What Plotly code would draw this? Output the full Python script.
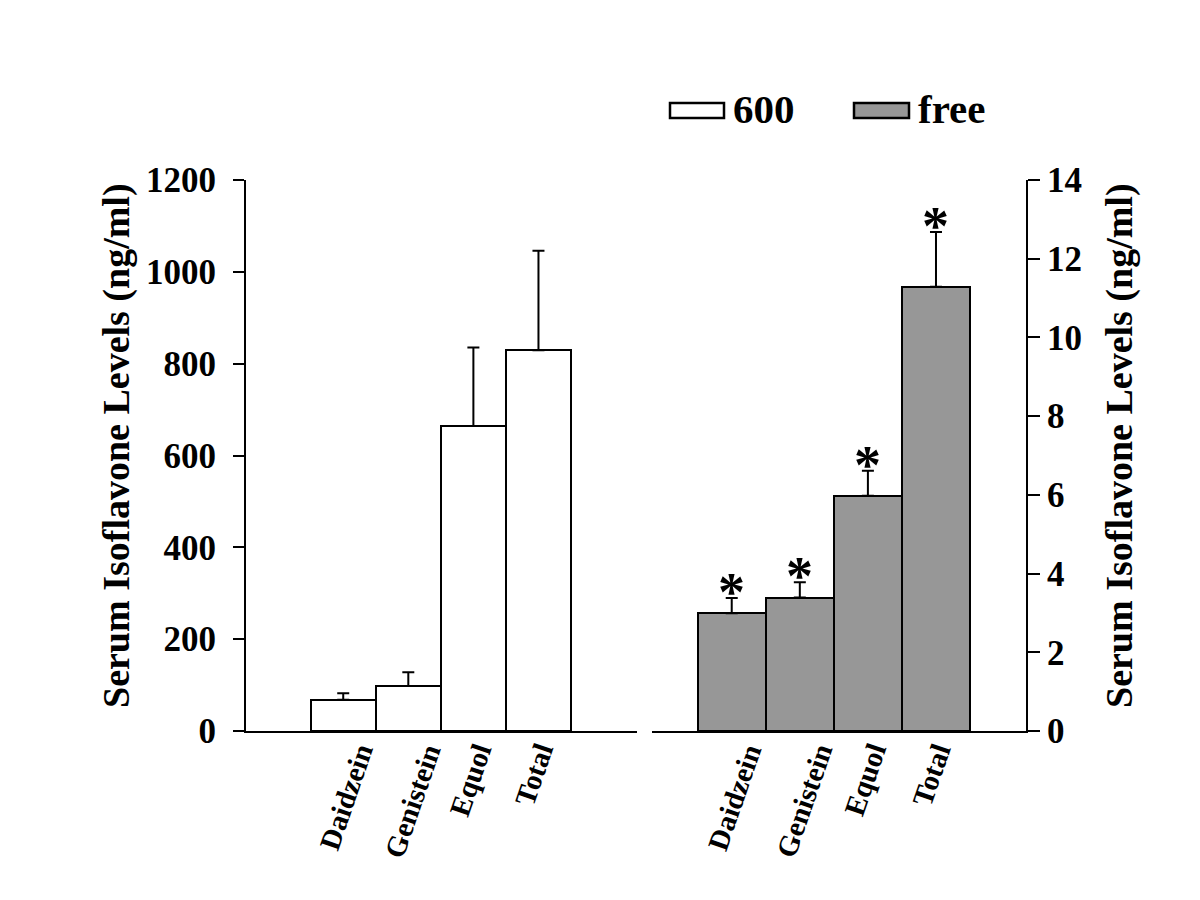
import plotly.graph_objects as go

categories = ["Daidzein", "Genistein", "Equol", "Total"]
left_values = [68, 98, 664, 829]
left_err_top = [82, 128, 835, 1046]
right_values = [2.99, 3.39, 5.98, 11.29]
right_err_top = [3.38, 3.78, 6.61, 12.68]
left_ticks = [0, 200, 400, 600, 800, 1000, 1200]
right_ticks = [0, 2, 4, 6, 8, 10, 12, 14]
legend_labels = ["600", "free"]

FONT = "Liberation Serif, Times New Roman, serif"
GRAY = "#979797"

xs = list(range(len(categories)))
left_err = [t - v for t, v in zip(left_err_top, left_values)]
right_err = [t - v for t, v in zip(right_err_top, right_values)]

fig = go.Figure()
fig.add_trace(go.Bar(
    x=xs, y=left_values, width=1, xaxis="x", yaxis="y",
    marker=dict(color="white", line=dict(color="black", width=2)),
    error_y=dict(type="data", array=left_err, arrayminus=[0]*4, symmetric=False,
                 color="black", thickness=2, width=6),
    showlegend=False,
))
fig.add_trace(go.Bar(
    x=xs, y=right_values, width=1, xaxis="x2", yaxis="y2",
    marker=dict(color=GRAY, line=dict(color="black", width=2)),
    error_y=dict(type="data", array=right_err, arrayminus=[0]*4, symmetric=False,
                 color="black", thickness=2, width=6),
    showlegend=False,
))

W, H = 1200, 900
OFF = 8  # page body margin offset
def px(x):
    return (x - OFF) / W
def py(y):
    return (H - (y - OFF)) / H

ydom = [py(731), py(180)]
axis_common = dict(showgrid=False, zeroline=False, showline=True, linecolor="black",
                   linewidth=2, mirror=False, automargin=False)

fig.update_layout(
    template="none",
    width=W, height=H, margin=dict(l=0, r=0, t=0, b=0, pad=0, autoexpand=False),
    paper_bgcolor="white", plot_bgcolor="white", bargap=0,
    font=dict(family=FONT, color="black"),
    xaxis=dict(domain=[px(246), px(637)], range=[-1.494, 4.514], anchor="y",
               showticklabels=False, ticks="", **axis_common),
    yaxis=dict(domain=ydom, range=[0, 1200], anchor="x", side="left",
               tickvals=left_ticks, ticks="outside", ticklen=11, tickwidth=2,
               tickcolor="black", ticklabelstandoff=10,
               tickfont=dict(family=FONT, size=35, color="black", weight="bold"),
               **axis_common),
    xaxis2=dict(domain=[px(652), px(1026)], range=[-1.171, 4.322], anchor="y2",
                showticklabels=False, ticks="", **axis_common),
    yaxis2=dict(domain=ydom, range=[0, 14], anchor="x2", side="right",
                tickvals=right_ticks, ticks="outside", ticklen=12, tickwidth=2,
                tickcolor="black", ticklabelstandoff=0,
                tickfont=dict(family=FONT, size=35, color="black", weight="bold"),
                **axis_common),
)

annotations = []
title = "Serum Isoflavone Levels (ng/ml)"
for xc in (116, 1119):
    annotations.append(dict(x=px(xc), y=py(446), xref="paper", yref="paper",
                            text=title, textangle=-90, showarrow=False,
                            xanchor="center", yanchor="middle",
                            font=dict(family=FONT, size=38, weight="bold")))
# rotated category labels
for xr, yr in (("x", "y"), ("x2", "y2")):
    for i, c in enumerate(categories):
        annotations.append(dict(x=xs[i], y=0, xref=xr, yref=yr, text=c, textangle=-71,
                                showarrow=False, xanchor="left", yanchor="top",
                                xshift=-33, yshift=-6,
                                font=dict(family=FONT, size=29, weight="bold")))
# significance stars
for i, t in enumerate(right_err_top):
    annotations.append(dict(x=xs[i], y=t, xref="x2", yref="y2", text="*",
                            showarrow=False, xanchor="center", yanchor="bottom",
                            yshift=-26, font=dict(family=FONT, size=54, weight="bold")))
# legend
shapes = [
    dict(type="rect", xref="paper", yref="paper", x0=px(670), x1=px(724),
         y0=py(118), y1=py(103), fillcolor="white", line=dict(color="black", width=2.5)),
    dict(type="rect", xref="paper", yref="paper", x0=px(854), x1=px(909),
         y0=py(118), y1=py(103), fillcolor=GRAY, line=dict(color="black", width=2.5)),
]
for lx, lab in ((731, legend_labels[0]), (916, legend_labels[1])):
    annotations.append(dict(x=px(lx), y=py(108.5), xref="paper", yref="paper", text=lab,
                            showarrow=False, xanchor="left", yanchor="middle",
                            font=dict(family=FONT, size=41, weight="bold")))

fig.update_layout(annotations=annotations, shapes=shapes)
fig.write_html("out.html")
